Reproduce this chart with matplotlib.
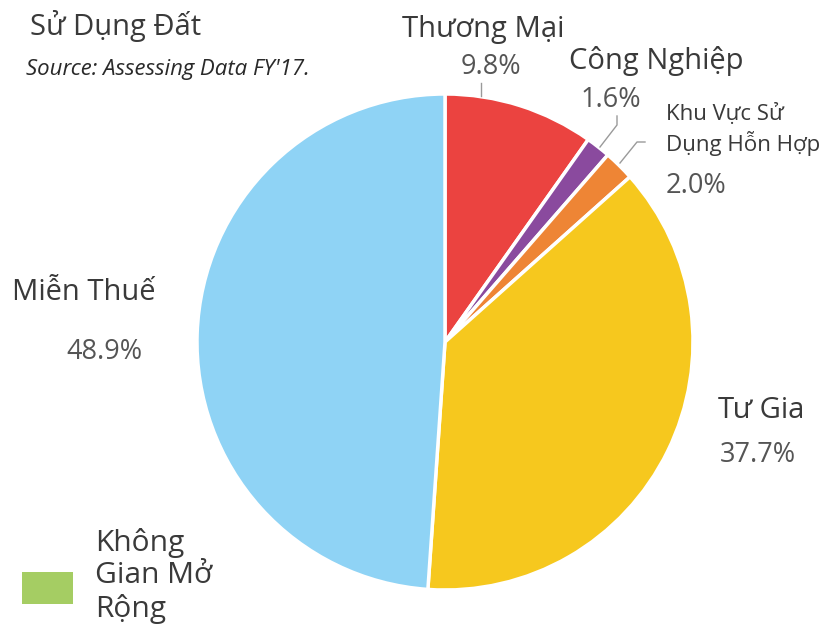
import matplotlib.pyplot as plt
from matplotlib import font_manager as fm
from matplotlib.patches import Rectangle


def font_file(name):
    for f in fm.fontManager.ttflist:
        if f.fname.endswith(name):
            return f.fname
    return None


reg_path = font_file('OpenSans-Regular.ttf')
ita_path = font_file('OpenSans-Italic.ttf')


def fp(size, italic=False):
    path = ita_path if italic else reg_path
    if path:
        return fm.FontProperties(fname=path, size=size)
    return fm.FontProperties(family='DejaVu Sans', size=size, style='italic' if italic else 'normal')


# Land use shares, clockwise from 12 o'clock
categories = ['Thương Mại', 'Công Nghiệp', 'Khu Vực Sử\nDụng Hỗn Hợp', 'Tư Gia', 'Miễn Thuế', 'Không\nGian Mở\nRộng']
values = [9.8, 1.6, 2.0, 37.7, 48.9, 0.0]
colors = ['#EB4340', '#8A4A9E', '#EE8535', '#F6C81E', '#8FD3F5', '#A5CD63']
pct_labels = ['%.1f%%' % v for v in values]

W, H = 836, 626
fig = plt.figure(figsize=(W / 100, H / 100), dpi=100)

# pie axes: center (445, 342) px, radius 248 px
cx, cy, r = 445, 342, 248
ax = fig.add_axes([(cx - r) / W, (H - cy - r) / H, 2 * r / W, 2 * r / H])
shown = [i for i, v in enumerate(values) if v > 0]
ax.pie([values[i] for i in shown], colors=[colors[i] for i in shown],
       startangle=90, counterclock=False, radius=1,
       wedgeprops=dict(edgecolor='white', linewidth=2.5))
ax.set_xlim(-1.0, 1.0)
ax.set_ylim(-1.0, 1.0)
ax.set_aspect('equal')
ax.axis('off')

# overlay in pixel coordinates for text and leader lines
ov = fig.add_axes([0, 0, 1, 1], facecolor='none')
ov.set_xlim(0, W)
ov.set_ylim(H, 0)
ov.axis('off')

dark = '#3a3a3a'
grey = '#555555'
line_c = '#9a9a9a'
big, pct, small = 21, 19.5, 16

ov.text(30, 26, 'Sử Dụng Đất', fontproperties=fp(big), color=dark, va='center', ha='left')
ov.text(26, 69, 'Source: Assessing Data FY\'17.', fontproperties=fp(16, True),
        color='#2a2a2a', va='center', ha='left')

# Thương Mại
ov.text(483, 29, categories[0], fontproperties=fp(big), color=dark, ha='center', va='center')
ov.text(491, 67, pct_labels[0], fontproperties=fp(pct), color=grey, ha='center', va='center')
ov.plot([481, 481], [83, 96], color=line_c, lw=1)

# Công Nghiệp
ov.text(656, 61, categories[1], fontproperties=fp(big), color=dark, ha='center', va='center')
ov.text(611, 100, pct_labels[1], fontproperties=fp(pct), color=grey, ha='center', va='center')
ov.plot([600, 617, 617], [147, 125, 116], color=line_c, lw=1)

# Khu Vực Sử Dụng Hỗn Hợp
ov.text(666, 130, categories[2], fontproperties=fp(small), color=dark, ha='left', va='center',
        linespacing=1.3)
ov.text(666, 186, pct_labels[2], fontproperties=fp(pct), color=grey, ha='left', va='center')
ov.plot([620, 637, 645], [163, 142, 142], color=line_c, lw=1)

# Tư Gia
ov.text(761, 410, categories[3], fontproperties=fp(big), color=dark, ha='center', va='center')
ov.text(758, 455, pct_labels[3], fontproperties=fp(pct), color=grey, ha='center', va='center')

# Miễn Thuế
ov.text(84, 292, categories[4], fontproperties=fp(big), color=dark, ha='center', va='center')
ov.text(104, 352, pct_labels[4], fontproperties=fp(pct), color=grey, ha='center', va='center')

# legend for the zero-share category
ov.add_patch(Rectangle((22, 572), 51, 32, facecolor=colors[5], edgecolor='none'))
ov.text(95, 576, categories[5], fontproperties=fp(21.5), color=dark, ha='left', va='center',
        linespacing=1.15)

fig.savefig('out.png', dpi=100)
